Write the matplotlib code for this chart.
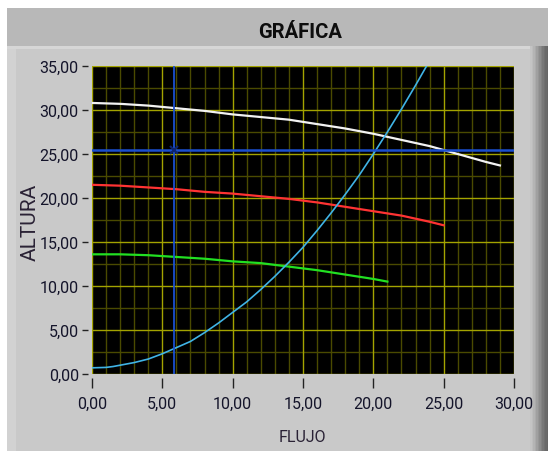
import matplotlib
matplotlib.use("Agg")
import matplotlib.pyplot as plt
from matplotlib.patches import Rectangle
import numpy as np

# ---- data ----
flow_white = [0, 2, 4, 6, 8, 10, 12, 14, 16, 18, 20, 22, 24, 26, 28, 29]
head_white = [30.8, 30.7, 30.5, 30.2, 29.9, 29.5, 29.2, 28.9, 28.4, 27.9, 27.3, 26.6, 25.9, 25.0, 24.1, 23.7]

flow_red = [0, 2, 4, 6, 8, 10, 12, 14, 16, 18, 20, 22, 24, 25]
head_red = [21.5, 21.4, 21.2, 21.0, 20.7, 20.5, 20.2, 19.9, 19.5, 19.0, 18.5, 18.0, 17.3, 16.9]

flow_green = [0, 2, 4, 6, 8, 10, 12, 14, 16, 18, 20, 21]
head_green = [13.6, 13.6, 13.5, 13.3, 13.1, 12.8, 12.6, 12.2, 11.8, 11.3, 10.8, 10.5]

flow_sys = [0, 1, 1.5, 2, 3, 4, 5, 6, 7, 8, 9, 10, 11, 12, 13, 14, 15, 16, 17, 18, 19, 20, 21, 22, 23, 24]
head_sys = [0.7, 0.75, 0.85, 1.0, 1.3, 1.7, 2.3, 3.0, 3.7, 4.7, 5.8, 7.0, 8.2, 9.6, 11.1, 12.7, 14.4,
            16.3, 18.3, 20.4, 22.6, 25.0, 27.5, 30.1, 32.8, 35.6]

cursor_x = 5.85
cursor_y = 25.4

x_ticks = [0, 5, 10, 15, 20, 25, 30]
x_ticklabels = ['0,00', '5,00', '10,00', '15,00', '20,00', '25,00', '30,00']
y_ticks = [0, 5, 10, 15, 20, 25, 30, 35]
y_ticklabels = ['0,00', '5,00', '10,00', '15,00', '20,00', '25,00', '30,00', '35,00']

title_text = 'GRÁFICA'
xlabel_text = 'FLUJO'
ylabel_text = 'ALTURA'

# ---- figure ----
W, H = 548, 452
fig = plt.figure(figsize=(W / 100, H / 100), dpi=100, facecolor='white')

def px_rect(x0, y0, x1, y1, color):
    fig.patches.append(Rectangle((x0 / W, 1 - y1 / H), (x1 - x0) / W, (y1 - y0) / H,
                                 transform=fig.transFigure, facecolor=color,
                                 edgecolor='none', zorder=-10))

# title band and panel
px_rect(7, 9, 548, 47, '#b8b8b8')
px_rect(7, 47, 530, 452, '#c9c9c9')
px_rect(7, 47, 530, 50, '#d6d6d6')
px_rect(7, 50, 16, 452, '#d2d2d2')
# right shaded edge
grad_cols = ['#c4c4c4', '#bdbdbd', '#b4b4b4', '#ababab', '#a0a0a0', '#969696',
             '#8c8c8c', '#828282', '#787878', '#707070', '#6a6a6a', '#666666']
gw = 18 / len(grad_cols)
for i, c in enumerate(grad_cols):
    px_rect(530 + i * gw, 47, 530 + (i + 1) * gw + 0.5, 452, c)

fontfam = ['Roboto', 'DejaVu Sans']

fig.text(300 / W, 1 - 32 / H, title_text, ha='center', va='center',
         fontsize=14.5, fontweight='bold', color='#0d0d0d', family=fontfam)

# axes
ax = fig.add_axes([92 / W, 1 - 375 / H, 422 / W, 308 / H])
ax.set_facecolor('black')
ax.set_xlim(0, 30)
ax.set_ylim(0, 35)

minor_col = '#4a4a00'
major_col = '#a3a300'
for xv in range(0, 31):
    if xv % 5 != 0:
        ax.axvline(xv, color=minor_col, lw=1.0, zorder=1)
for yv in np.arange(2.5, 35, 5):
    ax.axhline(yv, color=minor_col, lw=1.0, zorder=1)
for xv in x_ticks:
    ax.axvline(xv, color=major_col, lw=1.0, zorder=1.5)
for yv in y_ticks:
    ax.axhline(yv, color=major_col, lw=1.0, zorder=1.5)

lw = 1.6
ax.plot(flow_white, head_white, color='#f2f2f2', lw=lw, zorder=3)
ax.plot(flow_red, head_red, color='#ff3333', lw=lw, zorder=3)
ax.plot(flow_green, head_green, color='#22e022', lw=lw, zorder=3)
ax.plot(flow_sys, head_sys, color='#40b4e6', lw=1.2, zorder=3)

ax.axvline(cursor_x, color='#1a4fd0', lw=1.3, zorder=4)
ax.axhline(cursor_y, color='#1a4fd0', lw=1.8, zorder=4)
ax.plot([cursor_x], [cursor_y], marker='x', color='#0d2470', ms=6, mew=1.5, zorder=5)

for s in ax.spines.values():
    s.set_visible(False)
ax.spines['left'].set_position(('outward', 3))
ax.spines['bottom'].set_position(('outward', 3))

ax.set_xticks(x_ticks)
ax.set_xticklabels(x_ticklabels)
ax.set_yticks(y_ticks)
ax.set_yticklabels(y_ticklabels)
ax.tick_params(axis='x', direction='out', length=7, width=1, color='#222222',
               pad=6, labelsize=11.5, labelcolor='#14142a')
ax.tick_params(axis='y', direction='out', length=4.5, width=1, color='#222222',
               pad=2, labelsize=11.5, labelcolor='#14142a')
for lab in ax.get_xticklabels() + ax.get_yticklabels():
    lab.set_family(fontfam)

fig.text(302 / W, 1 - 438 / H, xlabel_text, ha='center', va='center',
         fontsize=11.5, color='#2a2235', family=fontfam)
fig.text(30 / W, 1 - 222 / H, ylabel_text, ha='center', va='center', rotation=90,
         fontsize=15, color='#2a2235', family=fontfam)

fig.savefig('out.png', dpi=100, facecolor=fig.get_facecolor())
